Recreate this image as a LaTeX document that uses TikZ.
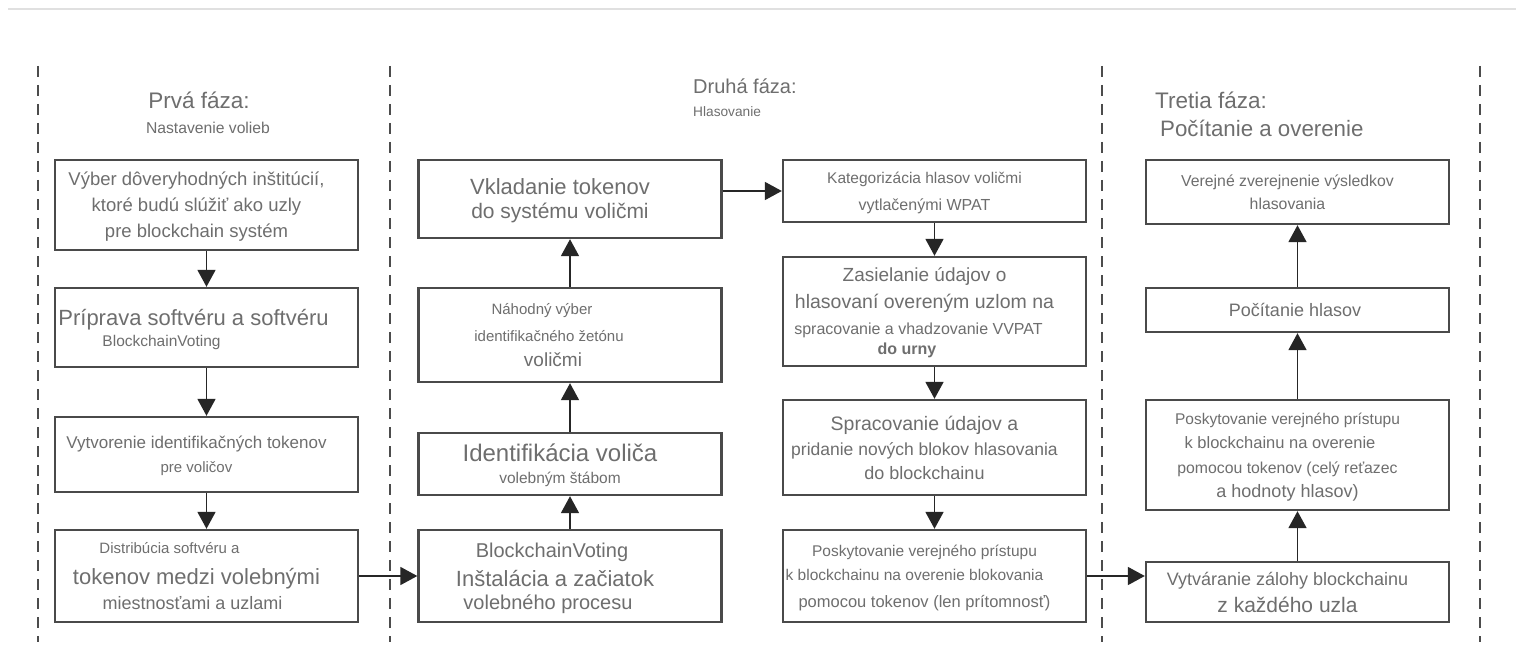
\documentclass[tikz,border=0pt]{standalone}
\usepackage{fontspec}
\setmainfont{Liberation Sans}
\usetikzlibrary{arrows.meta}
\definecolor{txt}{HTML}{6E6E6E}
\definecolor{frame}{HTML}{4A4A4A}
\newcommand{\fz}[2]{\fontsize{#1}{#2}\selectfont}
% one line of a box text: [right padding], baseline distance to the previous line, font size, text
\newcommand{\Ln}[4][20]{\rule{0pt}{#2pt}\makebox[0pt]{\raisebox{0pt}[\height][0pt]{\fz{#3}{#3}#4}\hspace*{#1pt}}}
\newcommand{\stk}[1]{\begin{tabular}{@{}c@{}}#1\end{tabular}}
\renewcommand{\arraystretch}{0}
\tikzset{
  stepbox/.style={draw=frame, line width=2.4pt, minimum width=303pt, inner sep=2pt,
    text=txt, align=center, anchor=center},
  arr/.style={line width=1.8pt, draw=black!85, -{Triangle[length=17pt,width=18pt]}},
  phase/.style={draw=black!70, line width=2.2pt, dash pattern=on 11pt off 8pt},
  ttl/.style={text=txt, inner sep=0pt}
}
\begin{document}
\begin{tikzpicture}[x=1pt,y=-1pt]
\useasboundingbox (0,0) rectangle (1524,666);
\fill[white] (0,0) rectangle (1524,666);
\draw[black!12, line width=1.2pt] (8,9) -- (1516,9);

% phase separators
\foreach \xx in {38,390,1102,1480}
  \draw[phase] (\xx,66) -- (\xx,642);

% phase titles
\node[ttl] (t1) at (199,100) {\fz{22.5}{26}Prvá fáza:};
\node[ttl] (s1) at (208,128) {\fz{15.7}{18}Nastavenie volieb};
\node[ttl, anchor=west] (t2) at (693,86) {\fz{20}{23}Druhá fáza:};
\node[ttl, anchor=west] (s2) at (693,112) {\fz{13.7}{16}Hlasovanie};
\node[ttl, anchor=west] (t3) at (1155,100) {\fz{22.5}{26}Tretia fáza:};
\node[ttl, anchor=west] (s3) at (1160,128) {\fz{22.3}{26}Počítanie a overenie};

% first phase
\node[stepbox, minimum height=90pt] (b1) at (206.5,205) {\stk{
  \Ln{0}{18.5}{Výber dôveryhodných inštitúcií,}\\
  \Ln{26}{18.5}{ktoré budú slúžiť ako uzly}\\
  \Ln{26}{18.5}{pre blockchain systém}}};
\node[stepbox, minimum height=79pt] (b2) at (206.5,327.5) {\stk{
  \Ln[26]{0}{22}{Príprava softvéru a softvéru}\\
  \Ln[90]{21}{15.5}{BlockchainVoting}}};
\node[stepbox, minimum height=75pt] (b3) at (206.5,454.5) {\stk{
  \Ln{0}{17}{Vytvorenie identifikačných tokenov}\\
  \Ln{24}{15}{pre voličov}}};
\node[stepbox, minimum height=92pt] (b4) at (206.5,576) {\stk{
  \Ln[74]{0}{15}{Distribúcia softvéru a}\\
  \Ln{31}{22}{tokenov medzi volebnými}\\
  \Ln[28]{25}{18}{miestnosťami a uzlami}}};

% second phase
\node[stepbox, minimum height=78pt] (c1) at (570,199) {\stk{
  \Ln{0}{22}{Vkladanie tokenov}\\
  \Ln{24}{21}{do systému voličmi}}};
\node[stepbox, minimum height=94pt] (c2) at (570,335) {\stk{
  \Ln[56]{0}{15}{Náhodný výber}\\
  \Ln[42]{27}{15}{identifikačného žetónu}\\
  \Ln[34]{25}{19}{voličmi}}};
\node[stepbox, minimum height=62pt] (c3) at (570,464) {\stk{
  \Ln{0}{24}{Identifikácia voliča}\\
  \Ln{22}{15.5}{volebným štábom}}};
\node[stepbox, minimum height=92pt] (c4) at (570,576) {\stk{
  \Ln[36]{0}{20}{BlockchainVoting}\\
  \Ln[30]{29}{22}{Inštalácia a začiatok}\\
  \Ln[44]{23}{20}{volebného procesu}}};

% third phase
\node[stepbox, minimum height=62pt] (d1) at (934.5,191) {\stk{
  \Ln{0}{15.5}{Kategorizácia hlasov voličmi}\\
  \Ln{27}{16}{vytlačenými WPAT}}};
\node[stepbox, minimum height=109pt] (d2) at (934.5,311.5) {\stk{
  \Ln{0}{19}{Zasielanie údajov o}\\
  \Ln{27}{19.5}{hlasovaní overeným uzlom na}\\
  \Ln[32]{26}{16}{spracovanie a vhadzovanie VVPAT}\\
  \Ln[55]{20}{16}{\textbf{do urny}}}};
\node[stepbox, minimum height=95pt] (d3) at (934.5,447.5) {\stk{
  \Ln{0}{19.5}{Spracovanie údajov a}\\
  \Ln{25}{17.5}{pridanie nových blokov hlasovania}\\
  \Ln{24}{18}{do blockchainu}}};
\node[stepbox, minimum height=92pt] (d4) at (934.5,576) {\stk{
  \Ln{0}{15.5}{Poskytovanie verejného prístupu}\\
  \Ln[40]{24}{15.5}{k blockchainu na overenie blokovania}\\
  \Ln{27}{16.5}{pomocou tokenov (len prítomnosť)}}};

% fourth phase
\node[stepbox, minimum height=64pt] (e4) at (1297.5,192) {\stk{
  \Ln{0}{15.8}{Verejné zverejnenie výsledkov}\\
  \Ln{23}{15.8}{hlasovania}}};
\node[stepbox, minimum height=44pt] (e3) at (1297.5,310) {\stk{
  \Ln[5]{0}{18}{Počítanie hlasov}}};
\node[stepbox, minimum height=110pt] (e2) at (1297.5,455) {\stk{
  \Ln{0}{15.5}{Poskytovanie verejného prístupu}\\
  \Ln[35]{24}{16.5}{k blockchainu na overenie}\\
  \Ln{25}{15.8}{pomocou tokenov (celý reťazec}\\
  \Ln{24}{18}{a hodnoty hlasov)}}};
\node[stepbox, minimum height=60pt] (e1) at (1297.5,592) {\stk{
  \Ln{0}{18}{Vytváranie zálohy blockchainu}\\
  \Ln{27}{21}{z každého uzla}}};

% connectors
\draw[arr] (b1) -- (b2);
\draw[arr] (b2) -- (b3);
\draw[arr] (b3) -- (b4);
\draw[arr] (b4) -- (c4);
\draw[arr] (c4) -- (c3);
\draw[arr] (c3) -- (c2);
\draw[arr] (c2) -- (c1);
\draw[arr] (c1.east |- d1.west) -- (d1.west);
\draw[arr] (d1) -- (d2);
\draw[arr] (d2) -- (d3);
\draw[arr] (d3) -- (d4);
\draw[arr] (d4.east) -- (e1.west |- d4.east);
\draw[arr] (e1) -- (e2);
\draw[arr] (e2) -- (e3);
\draw[arr] (e3) -- (e4);
\end{tikzpicture}
\end{document}
